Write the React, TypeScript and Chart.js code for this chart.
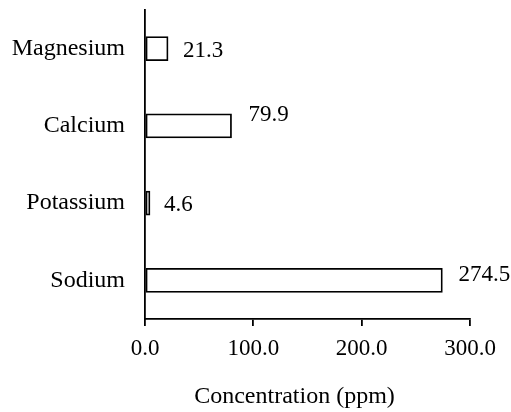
import React, { useEffect, useRef } from "react";
import { Chart, registerables } from "chart.js";

Chart.register(...registerables);

const categories = ["Magnesium", "Calcium", "Potassium", "Sodium"];
const values = [21.3, 79.9, 4.6, 274.5];
const xTicks = [0, 100, 200, 300];
const axisTitle = "Concentration (ppm)";
const labelNudgeY = [2, -11, 1.5, -5];
const labelGapX = [15, 17, 14, 16];

const FONT = "'Liberation Serif', 'Times New Roman', serif";

const valueLabels = {
  id: "valueLabels",
  afterDatasetsDraw(chart: any) {
    const ctx = chart.ctx;
    const meta = chart.getDatasetMeta(0);
    ctx.save();
    ctx.font = `23px ${FONT}`;
    ctx.fillStyle = "#000";
    ctx.textAlign = "left";
    ctx.textBaseline = "middle";
    meta.data.forEach((bar: any, i: number) => {
      const v = values[i];
      ctx.fillText(v.toFixed(1), bar.x + (labelGapX[i] ?? 15), bar.y + (labelNudgeY[i] || 0));
    });
    // x-axis title
    const xs = chart.scales.x;
    ctx.font = `24px ${FONT}`;
    ctx.textAlign = "center";
    ctx.fillText(axisTitle, (xs.left + xs.right) / 2 - 13, xs.bottom - 15);
    ctx.restore();
  },
};

export default function App() {
  const ref = useRef<HTMLCanvasElement | null>(null);
  useEffect(() => {
    document.body.style.margin = "0";
    const chart = new Chart(ref.current!, {
      type: "bar",
      data: {
        labels: categories,
        datasets: [
          {
            data: values,
            backgroundColor: "#ffffff",
            borderColor: "#000000",
            borderWidth: 1.8,
            borderSkipped: false,
            barThickness: 24,
          },
        ],
      },
      options: {
        indexAxis: "y",
        animation: false,
        responsive: false,
        maintainAspectRatio: false,
        layout: { padding: { top: 10, right: 41, left: 0, bottom: 0 } },
        plugins: {
          legend: { display: false },
          tooltip: { enabled: false },
        },
        scales: {
          x: {
            type: "linear",
            min: 0,
            max: 300,
            afterBuildTicks: (scale: any) => {
              scale.ticks = xTicks.map((v) => ({ value: v }));
            },
            afterFit: (scale: any) => {
              scale.height = 93;
            },
            ticks: {
              color: "#000",
              font: { family: FONT, size: 23 },
              padding: 9,
              callback: (v: any) => Number(v).toFixed(1),
              maxRotation: 0,
            },
            grid: {
              drawOnChartArea: false,
              drawTicks: true,
              tickLength: 7,
              color: "#000",
              lineWidth: 1.8,
            },
            border: { display: true, color: "#000", width: 1.8 },
          },
          y: {
            type: "category",
            afterFit: (scale: any) => {
              scale.width = 145;
              scale.paddingTop = 0;
              scale.paddingBottom = 0;
            },
            ticks: {
              color: "#000",
              font: { family: FONT, size: 24 },
              padding: 20,
            },
            grid: { display: false, drawTicks: false },
            border: { display: true, color: "#000", width: 1.8 },
          },
        },
      },
      plugins: [valueLabels],
    });
    return () => chart.destroy();
  }, []);
  return (
    <div style={{ position: "absolute", left: 0, top: 0, width: 511, height: 412 }}>
      <canvas ref={ref} width={511} height={412} style={{ width: 511, height: 412 }} />
    </div>
  );
}
